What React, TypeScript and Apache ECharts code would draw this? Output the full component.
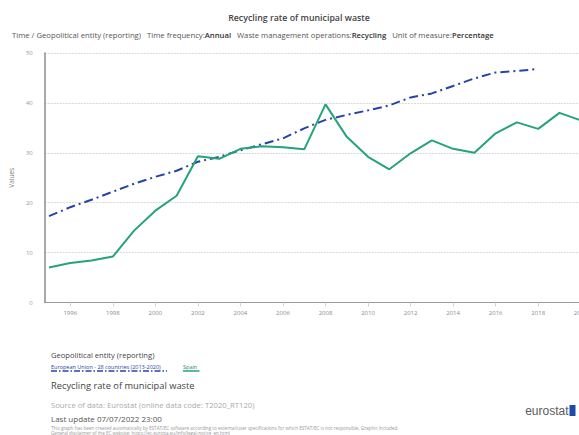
import React, { useEffect, useRef } from "react";
import * as echarts from "echarts";

// Recycling rate of municipal waste (%), annual
const years: number[] = [
  1995, 1996, 1997, 1998, 1999, 2000, 2001, 2002, 2003, 2004, 2005, 2006, 2007,
  2008, 2009, 2010, 2011, 2012, 2013, 2014, 2015, 2016, 2017, 2018, 2019, 2020,
];
const eu28: (number | null)[] = [
  17.3, 19.1, 20.6, 22.2, 23.8, 25.2, 26.4, 28.2, 29.2, 30.5, 31.7, 32.9, 34.9,
  36.6, 37.6, 38.5, 39.5, 41.1, 41.9, 43.4, 44.9, 46.1, 46.4, 46.8, null, null,
];
const spain: number[] = [
  7.0, 7.9, 8.4, 9.2, 14.4, 18.4, 21.4, 29.3, 28.8, 30.8, 31.3, 31.1, 30.7,
  39.7, 33.2, 29.2, 26.7, 29.9, 32.5, 30.8, 30.0, 33.9, 36.1, 34.8, 38.0, 36.5,
];
const tickYears: number[] = [1996, 1998, 2000, 2002, 2004, 2006, 2008, 2010, 2012, 2014, 2016, 2018, 2020];
const seriesNames: string[] = ["European Union - 28 countries (2013-2020)", "Spain"];

const BLUE = "#2644a7";
const GREEN = "#24a477";
const FONT = "'Open Sans', 'Noto Sans', sans-serif";

export default function App() {
  const ref = useRef<HTMLDivElement>(null);

  useEffect(() => {
    if (!ref.current) return;
    const chart = echarts.init(ref.current, undefined, { renderer: "svg" });
    chart.setOption({
      animation: false,
      textStyle: { fontFamily: FONT },
      grid: { left: 43, top: 53, width: 559, height: 249.5 },
      xAxis: {
        type: "value",
        min: 1994.8,
        max: 2021,
        axisLine: { show: true, lineStyle: { color: "#9a9a9a", width: 1 } },
        axisTick: {
          show: true,
          customValues: tickYears,
          length: 4,
          lineStyle: { color: "#c9d2ef" },
        },
        axisLabel: {
          customValues: tickYears,
          fontSize: 6,
          color: "#8a8a8a",
          margin: 7,
          formatter: (v: number) => String(v),
        },
        splitLine: { show: false },
      },
      yAxis: {
        type: "value",
        min: 0,
        max: 50,
        interval: 10,
        name: "Values",
        nameLocation: "middle",
        nameRotate: 90,
        nameGap: 22,
        nameTextStyle: { fontSize: 6.5, color: "#808080" },
        axisLine: { show: true, lineStyle: { color: "#8c8c8c", width: 1.5 } },
        axisTick: { show: false },
        axisLabel: { fontSize: 6, color: "#9a9a9a", margin: 12 },
        splitLine: { lineStyle: { color: "#d8d8d8", type: [2, 1], width: 1 } },
      },
      series: [
        {
          name: seriesNames[0],
          type: "line",
          data: years.map((y, i) => [y, eu28[i]]),
          showSymbol: false,
          connectNulls: false,
          lineStyle: { color: BLUE, width: 2, type: [9, 4, 2, 4] },
          itemStyle: { color: BLUE },
        },
        {
          name: seriesNames[1],
          type: "line",
          data: years.map((y, i) => [y, spain[i]]),
          showSymbol: false,
          lineStyle: { color: GREEN, width: 2 },
          itemStyle: { color: GREEN },
        },
      ],
      graphic: [
        {
          type: "text",
          x: 299,
          y: 18,
          style: {
            text: "Recycling rate of municipal waste",
            font: `600 8.8px ${FONT}`,
            fill: "#444",
            align: "center",
            verticalAlign: "middle",
          },
        },
        {
          type: "text",
          x: 12,
          y: 35,
          style: {
            text:
              "Time / Geopolitical entity (reporting)   Time frequency:{b|Annual}   Waste management operations:{b|Recycling}   Unit of measure:{b|Percentage}",
            font: `7.7px ${FONT}`,
            fill: "#555",
            verticalAlign: "middle",
            rich: {
              b: { font: `600 7.7px ${FONT}`, fill: "#333" },
            },
          },
        },
        {
          type: "text",
          x: 51,
          y: 355,
          style: {
            text: "Geopolitical entity (reporting)",
            font: `7.6px ${FONT}`,
            fill: "#444",
            verticalAlign: "middle",
          },
        },
        {
          type: "text",
          x: 51,
          y: 367,
          style: {
            text: seriesNames[0],
            font: `5.5px ${FONT}`,
            fill: BLUE,
            verticalAlign: "middle",
          },
        },
        {
          type: "line",
          shape: { x1: 51, y1: 371, x2: 167, y2: 371 },
          style: { stroke: BLUE, lineWidth: 1.5, lineDash: [6, 2, 1.5, 2] },
        },
        {
          type: "text",
          x: 183,
          y: 367,
          style: {
            text: seriesNames[1],
            font: `5.5px ${FONT}`,
            fill: "#1d8a63",
            verticalAlign: "middle",
          },
        },
        {
          type: "line",
          shape: { x1: 183, y1: 371, x2: 199.5, y2: 371 },
          style: { stroke: GREEN, lineWidth: 1.5 },
        },
        {
          type: "text",
          x: 51,
          y: 385,
          style: {
            text: "Recycling rate of municipal waste",
            font: `9.3px ${FONT}`,
            fill: "#444",
            verticalAlign: "middle",
          },
        },
        {
          type: "text",
          x: 51,
          y: 405,
          style: {
            text: "Source of data: Eurostat (online data code: T2020_RT120)",
            font: `7.7px ${FONT}`,
            fill: "#aaa",
            verticalAlign: "middle",
          },
        },
        {
          type: "text",
          x: 51,
          y: 418,
          style: {
            text: "Last update 07/07/2022 23:00",
            font: `8px ${FONT}`,
            fill: "#555",
            verticalAlign: "middle",
          },
        },
        {
          type: "text",
          x: 51,
          y: 427.5,
          style: {
            text:
              "This graph has been created automatically by ESTAT/EC software according to external/user specifications for which ESTAT/EC is not responsible, Graphic Included,",
            font: `4.6px ${FONT}`,
            fill: "#999",
            verticalAlign: "middle",
          },
        },
        {
          type: "text",
          x: 51,
          y: 432.5,
          style: {
            text: "General disclaimer of the EC website: https://ec.europa.eu/info/legal-notice_en.html",
            font: `4.6px ${FONT}`,
            fill: "#999",
            verticalAlign: "middle",
          },
        },
        {
          type: "text",
          x: 568.5,
          y: 411,
          style: {
            text: "eurostat",
            font: `12px 'Liberation Sans', Arial, sans-serif`,
            fill: "#5c5c5c",
            align: "right",
            verticalAlign: "middle",
          },
        },
        {
          type: "rect",
          shape: { x: 569.5, y: 405, width: 6, height: 11 },
          style: { fill: "#1f4aa8" },
        },
      ],
    });
    return () => chart.dispose();
  }, []);

  return (
    <div
      style={{
        position: "fixed",
        left: 0,
        top: 0,
        width: 579,
        height: 435,
        overflow: "hidden",
        background: "#fff",
      }}
    >
      <div ref={ref} style={{ width: 650, height: 435 }} />
    </div>
  );
}
